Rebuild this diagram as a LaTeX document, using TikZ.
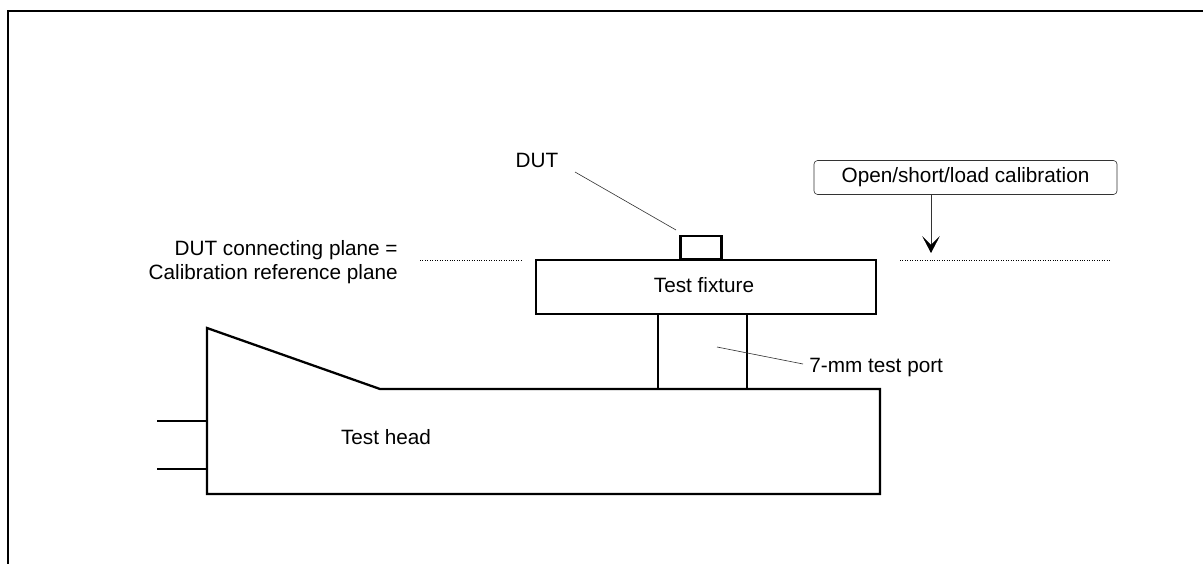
\documentclass[tikz,border=0pt]{standalone}
\usepackage{fontspec}
\setmainfont{Liberation Sans}
\usetikzlibrary{arrows.meta,positioning,calc}
\begin{document}
\begin{tikzpicture}[
  x=0.02cm, y=-0.02cm, font=\fontsize{11.8}{13.6}\selectfont,
  outl/.style={draw, line width=1.3pt},
  thinl/.style={draw, line width=0.35pt, black!80},
  refl/.style={draw, line width=0.4pt, densely dotted},
  txt/.style={inner sep=0pt, align=left}
]
  \useasboundingbox (0,0) rectangle (1203,564);
  \coordinate (fbl) at (8,564);
  \coordinate (ftl) at (8,11);
  \coordinate (ftr) at (1203,11);
  \draw[outl] (fbl) -- (ftl) -- (ftr);
  % test head
  \coordinate (hd1) at (207,328);
  \coordinate (hd2) at (380,389);
  \coordinate (hd3) at (880,389);
  \coordinate (hd4) at (880,494);
  \coordinate (hd5) at (207,494);
  \draw[outl] (hd1) -- (hd2) -- (hd3) -- (hd4) -- (hd5) -- cycle;
  \node[txt] (head) at (386,437) {Test head};
  \coordinate (ca1) at (157,421);
  \coordinate (ca2) at (207,421);
  \coordinate (cb1) at (157,469);
  \coordinate (cb2) at (207,469);
  \draw[outl] (ca1) -- (ca2);
  \draw[outl] (cb1) -- (cb2);
  % fixture
  \node[outl, minimum width=6.8cm, minimum height=1.08cm, inner sep=0pt] (fix) at (706,287) {};
  \node[txt] (fixl) at (704,285) {Test fixture};
  \coordinate (pa1) at (658,314);
  \coordinate (pa2) at (658,389);
  \coordinate (pb1) at (747,314);
  \coordinate (pb2) at (747,389);
  \draw[outl] (pa1) -- (pa2);
  \draw[outl] (pb1) -- (pb2);
  \node[outl, minimum width=0.82cm, minimum height=0.46cm, inner sep=0pt, anchor=south] (dut) at (701,260) {};
  % labels
  \node[txt] (dutl) at (537,160) {DUT};
  \coordinate (dute) at (676,230);
  \coordinate (duts) at (575,172);
  \draw[thinl] (duts) -- (dute);
  \node[txt, anchor=east, align=right] (plane) at (398,262) {DUT connecting plane =\\Calibration reference plane};
  \coordinate (ra1) at (420,260);
  \coordinate (ra2) at (521,260);
  \draw[refl] (ra1) -- (ra2);
  \coordinate (rb1) at (900,260);
  \coordinate (rb2) at (1110,260);
  \draw[refl] (rb1) -- (rb2);
  \node[thinl, rounded corners=2pt, minimum width=6.06cm, minimum height=0.68cm, inner sep=0pt, text=black] (cal) at (965.5,177.5) {Open/short/load calibration};
  \coordinate (cale) at (931,253);
  \draw[thinl, -{Stealth[length=9.6pt,width=10pt,inset=5pt,black]}] (cal.south -| cale) -- (cale);
  \node[txt, anchor=west] (port) at (809,368) {7-mm test port};
  \coordinate (pts) at (717,347);
  \coordinate (pte) at (803,364);
  \draw[thinl] (pts) -- (pte);
\end{tikzpicture}
\end{document}
